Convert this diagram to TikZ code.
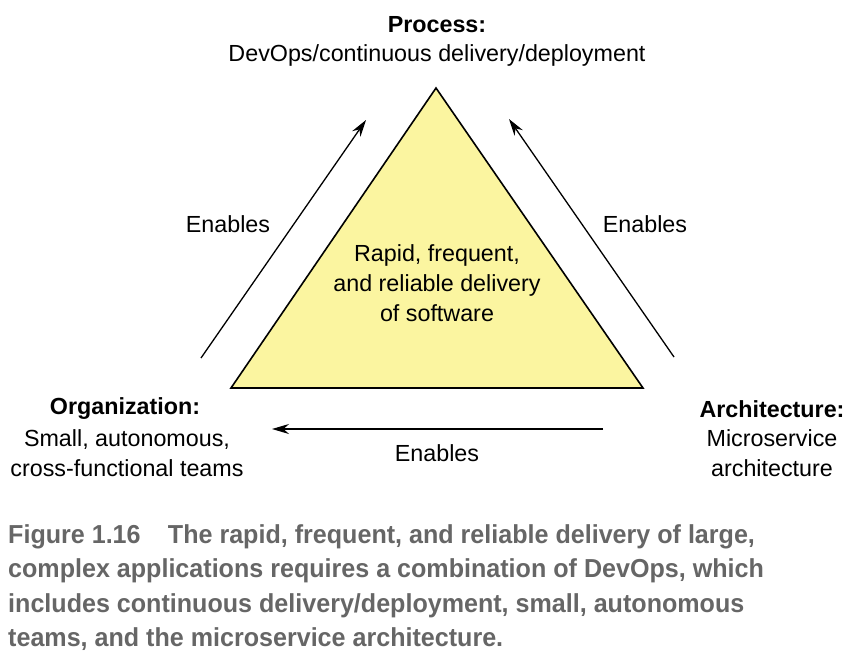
\documentclass[tikz,border=0pt]{standalone}
\usepackage{fontspec}
\setmainfont{Liberation Sans}
\newfontfamily\capfont[FakeStretch=0.965]{Liberation Sans}
\usetikzlibrary{arrows.meta}
\definecolor{triyellow}{RGB}{251,245,160}
\definecolor{capgray}{RGB}{102,102,102}
\begin{document}
\begin{tikzpicture}[x=1pt,y=-1pt,
  lbl/.style={inner sep=0pt,font=\fontsize{23.3}{30}\selectfont,align=center},
  blbl/.style={lbl,font=\fontsize{23.3}{30}\selectfont\bfseries},
  enarrow/.style={draw=black,line width=1.3pt,-{Stealth[length=17pt,width=10pt]}},
  capline/.style={anchor=base west,inner sep=0pt,text=capgray,font=\capfont\fontsize{26}{34}\selectfont\bfseries}]
\useasboundingbox (0,0) rectangle (860,654);
\coordinate (apex) at (436,88);
\coordinate (bl) at (231,388);
\coordinate (br) at (643,388);
\draw[fill=triyellow,line width=1.6pt,line join=miter] (apex) -- (br) -- (bl) -- cycle;
\node[lbl] (center) at (437,283) {Rapid, frequent,\\and reliable delivery\\of software};
% top label
\node[blbl] (proc) at (437,25) {Process:};
\node[lbl] (procd) at (437,55) {DevOps/continuous delivery/deployment};
% left label
\node[blbl] (org) at (125,409) {Organization:};
\node[lbl] (orgd) at (127,453) {Small, autonomous,\\cross-functional teams};
% right label
\node[blbl] (arch) at (772,409) {Architecture:};
\node[lbl] (archd) at (772,453) {Microservice\\architecture};
% arrows
\coordinate (la1) at (201,358); \coordinate (la2) at (366,120);
\coordinate (ra1) at (674,357); \coordinate (ra2) at (509,119);
\coordinate (ba1) at (603,429); \coordinate (ba2) at (272,429);
\draw[enarrow] (la1) -- (la2);
\draw[enarrow] (ra1) -- (ra2);
\draw[enarrow] (ba1) -- (ba2);
\node[lbl] (enl) at (228,224) {Enables};
\node[lbl] (enr) at (645,224) {Enables};
\node[lbl] (enb) at (437,453) {Enables};
% caption
\node[capline] (c1) at (8,543) {Figure 1.16\hspace{1.05em}The rapid, frequent, and reliable delivery of large,};
\node[capline] (c2) at (8,577) {complex applications requires a combination of DevOps, which};
\node[capline] (c3) at (8,612) {includes continuous delivery/deployment, small, autonomous};
\node[capline] (c4) at (8,646) {teams, and the microservice architecture.};
\end{tikzpicture}
\end{document}
